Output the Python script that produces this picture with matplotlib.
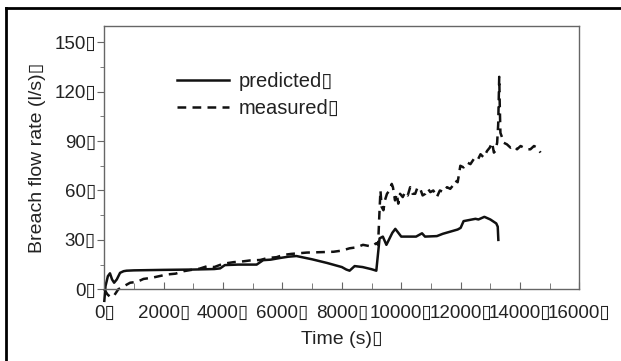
import matplotlib
matplotlib.use("Agg")
import matplotlib.pyplot as plt
from matplotlib.lines import Line2D
from matplotlib.ticker import MultipleLocator

plt.rcParams['font.family'] = ['Liberation Sans', 'DejaVu Sans']

BOX = '\u25af'

# predicted breach flow (solid)
t_pred = [0, 40, 120, 190, 260, 330, 420, 530, 650, 750, 1000, 2000, 3000, 3700,
          3900, 4060, 4500, 5130, 5350, 5600, 5910, 6200, 6470, 7000, 7500, 8000,
          8150, 8260, 8430, 8700, 9000, 9160, 9270, 9380, 9500, 9700, 9800, 10000,
          10500, 10700, 10800, 11200, 11400, 11900, 12000, 12100, 12500, 12600,
          12800, 13000, 13200, 13250, 13270]
q_pred = [-7, 2, 8, 9.7, 6, 4, 6, 10, 11, 11.3, 11.5, 11.8, 12, 12.3,
          12.7, 14.7, 15, 15, 17.7, 18, 19, 19.8, 20.2, 18.2, 16, 13.5,
          12, 11.3, 14.1, 13.5, 12.2, 11.3, 30.9, 32, 27, 34.3, 36.7, 32,
          32, 34, 32, 32.3, 33.7, 36.3, 37.3, 41.4, 42.8, 42.4,
          44, 42.4, 40, 38, 30]

# measured breach flow (dashed)
t_meas = [0, 100, 192, 303, 470, 870, 1100, 1320, 1600, 2110, 2400, 2670, 3000,
          3200, 3460, 3700, 4000, 4360, 4600, 4900, 5250, 5500, 5800, 6040, 6300,
          6820, 7200, 7720, 8000, 8260, 8500, 8710, 9000, 9160, 9220, 9262, 9300,
          9340, 9400, 9450, 9520, 9600, 9680, 9720, 9790, 9850, 9900, 9960, 10050,
          10130, 10220, 10300, 10380, 10470, 10550, 10640, 10720, 10810, 10900,
          10980, 11080, 11200, 11300, 11430, 11540, 11650, 11740, 11820, 11900,
          11990, 12100, 12220, 12330, 12440, 12560, 12670, 12780, 12890, 12980,
          13060, 13120, 13170, 13230, 13265, 13300, 13320, 13340, 13400, 13450,
          13560, 13680, 13790, 13900, 14020, 14130, 14240, 14350, 14470, 14580,
          14690]
q_meas = [0, -3, -4.5, -4.5, 0, 4, 4.5, 6.3, 7, 9, 9.5, 11, 12,
          12.5, 14, 13.5, 15.5, 16.5, 16.8, 17.5, 17.8, 19, 19.5, 20.9, 21.5,
          22.3, 22.5, 22.8, 23.5, 24.9, 25.5, 27, 26, 28, 27, 45, 60,
          50, 48, 54, 58, 60, 64, 62, 54, 58, 52, 58, 56,
          59, 57, 62, 58, 58, 62, 61, 57, 58, 61,
          59, 60, 56, 60, 59, 62, 61, 63, 66, 65,
          75, 74, 77, 76, 79, 78, 82, 80, 84, 86,
          89, 83, 84, 89, 100, 129, 110, 95, 92, 89,
          88, 86, 87, 85, 87, 86, 85, 85, 87, 86,
          83]

x_ticks = [0, 2000, 4000, 6000, 8000, 10000, 12000, 14000, 16000]
y_ticks = [0, 30, 60, 90, 120, 150]

text_color = '#222222'
spine_color = '#666666'

fig = plt.figure(figsize=(6.21, 3.61), dpi=100)
ax = fig.add_axes([0.168, 0.1986, 0.765, 0.730])

ax.plot(t_pred, q_pred, color='#111111', lw=1.8, label='predicted' + BOX, clip_on=False)
ax.plot(t_meas, q_meas, color='#111111', lw=1.8, ls=(0, (3.5, 2.5)), label='measured' + BOX,
        clip_on=False)

ax.set_xlim(0, 16000)
ax.set_ylim(0, 160)
ax.set_xticks(x_ticks)
ax.set_xticklabels([f'{v}{BOX}' for v in x_ticks])
ax.set_yticks(y_ticks)
ax.set_yticklabels([f'{v}{BOX}' for v in y_ticks])
ax.xaxis.set_minor_locator(MultipleLocator(1000))
ax.yaxis.set_minor_locator(MultipleLocator(15))

ax.tick_params(axis='x', which='both', direction='in', labelsize=13.5, pad=11,
               colors=spine_color, labelcolor=text_color)
ax.tick_params(axis='x', which='major', length=5)
ax.tick_params(axis='x', which='minor', length=4)
ax.tick_params(axis='y', which='both', direction='out', labelsize=13.5, pad=1,
               colors=spine_color, labelcolor=text_color)
ax.tick_params(axis='y', which='major', length=5)
ax.tick_params(axis='y', which='minor', length=3)
for s in ax.spines.values():
    s.set_color(spine_color)
    s.set_linewidth(1)

ax.set_xlabel('Time (s)' + BOX, fontsize=14, color=text_color, labelpad=7)
ax.set_ylabel('Breach flow rate (l/s)' + BOX, fontsize=14, color=text_color, labelpad=6)

ax.legend(loc='upper left', bbox_to_anchor=(0.115, 0.893), frameon=False, fontsize=14.5,
          handlelength=2.6, handletextpad=0.45, labelspacing=0.4, labelcolor=text_color)

# partial frame around figure (top and left)
fig.add_artist(Line2D([6 / 621, 6 / 621], [0, 1 - 8 / 361], transform=fig.transFigure,
                      color='black', lw=2))
fig.add_artist(Line2D([6 / 621, 1], [1 - 8 / 361, 1 - 8 / 361], transform=fig.transFigure,
                      color='black', lw=2))

fig.savefig('out.png', dpi=100)
